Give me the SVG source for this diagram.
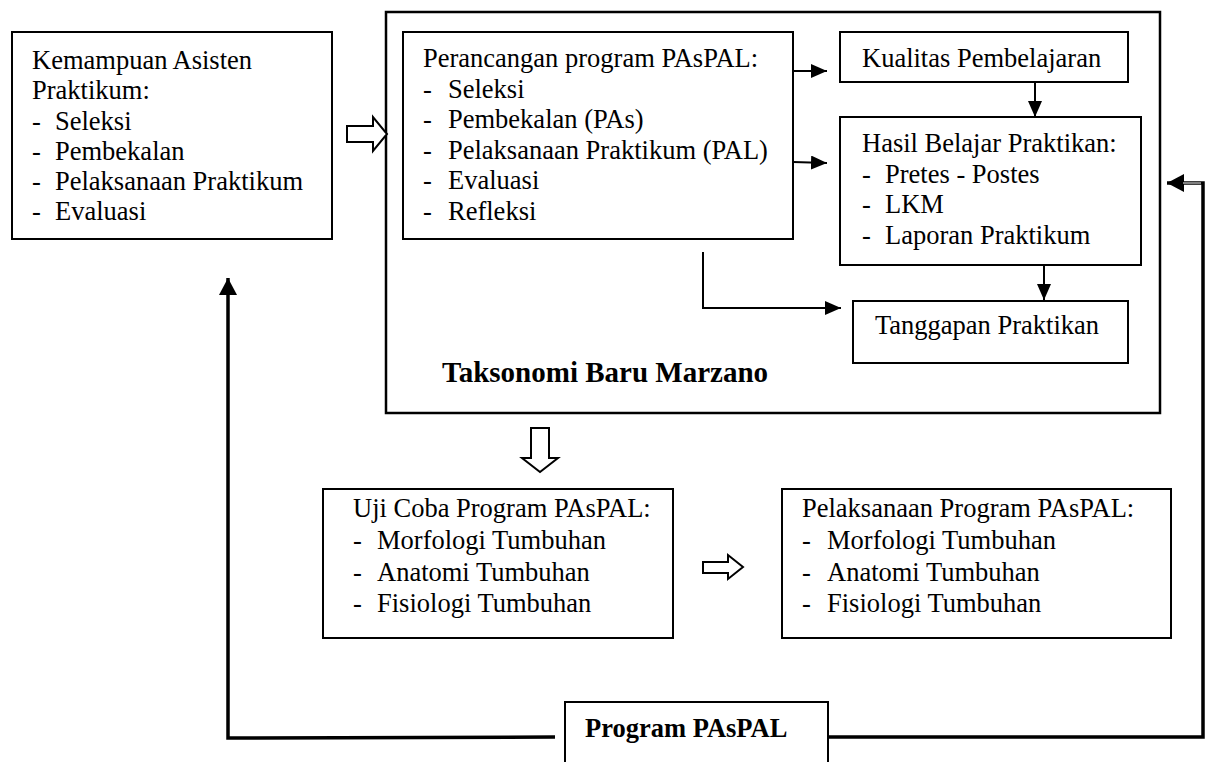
<svg xmlns="http://www.w3.org/2000/svg" width="1207" height="762" viewBox="0 0 1207 762" font-family="'Liberation Serif', 'Times New Roman', 'DejaVu Serif', serif">
<style>
  .box{fill:#fff;stroke:#000;stroke-width:2}
  .frame{fill:none;stroke:#000;stroke-width:2.5}
  text{font-family:'Liberation Serif','Times New Roman','DejaVu Serif',serif;font-size:26.5px;fill:#000}
  .b{font-weight:bold}
  .t{font-size:29px}
  .ln{fill:none;stroke:#000;stroke-width:2}
  .fb{fill:none;stroke:#000;stroke-width:3.5}
  .hollow{fill:#fff;stroke:#000;stroke-width:2;stroke-linejoin:miter}
</style>
<defs>
  <marker id="ah" markerUnits="userSpaceOnUse" markerWidth="16" markerHeight="14" viewBox="0 0 16 14" refX="16" refY="7" orient="auto">
    <path d="M0,0 L16,7 L0,14 Z" fill="#000"/>
  </marker>
  <marker id="ahb" markerUnits="userSpaceOnUse" markerWidth="17" markerHeight="18" viewBox="0 0 17 18" refX="17" refY="9" orient="auto">
    <path d="M0,0 L17,9 L0,18 Z" fill="#000"/>
  </marker>
</defs>

<g id="taksonomi-frame">
  <rect class="frame" x="386" y="12" width="774" height="401"/>
  <text class="b t" x="442" y="382">Taksonomi Baru Marzano</text>
</g>

<g id="kemampuan">
  <rect class="box" x="12" y="32" width="320" height="207"/>
  <text x="32" y="69">Kemampuan Asisten</text>
  <text x="32" y="99">Praktikum:</text>
  <text x="32" y="129.5">-</text><text x="55" y="129.5">Seleksi</text>
  <text x="32" y="160">-</text><text x="55" y="160">Pembekalan</text>
  <text x="32" y="190">-</text><text x="55" y="190">Pelaksanaan Praktikum</text>
  <text x="32" y="220">-</text><text x="55" y="220">Evaluasi</text>
</g>

<g id="perancangan">
  <rect class="box" x="403" y="32" width="390" height="207"/>
  <text x="423" y="67">Perancangan program PAsPAL:</text>
  <text x="423" y="97.5">-</text><text x="448" y="97.5">Seleksi</text>
  <text x="423" y="128">-</text><text x="448" y="128">Pembekalan (PAs)</text>
  <text x="423" y="158.5">-</text><text x="448" y="158.5">Pelaksanaan Praktikum (PAL)</text>
  <text x="423" y="189">-</text><text x="448" y="189">Evaluasi</text>
  <text x="423" y="219.5">-</text><text x="448" y="219.5">Refleksi</text>
</g>

<g id="kualitas">
  <rect class="box" x="840" y="32" width="288" height="50"/>
  <text x="862" y="67">Kualitas Pembelajaran</text>
</g>

<g id="hasil">
  <rect class="box" x="840" y="117" width="301" height="148"/>
  <text x="862" y="152">Hasil Belajar Praktikan:</text>
  <text x="862" y="182.5">-</text><text x="885" y="182.5">Pretes - Postes</text>
  <text x="862" y="213">-</text><text x="885" y="213">LKM</text>
  <text x="862" y="243.5">-</text><text x="885" y="243.5">Laporan Praktikum</text>
</g>

<g id="tanggapan">
  <rect class="box" x="853" y="301" width="275" height="62"/>
  <text x="875" y="334">Tanggapan Praktikan</text>
</g>

<g id="ujicoba">
  <rect class="box" x="323" y="489" width="350" height="149"/>
  <text x="353" y="517">Uji Coba Program PAsPAL:</text>
  <text x="353" y="549">-</text><text x="377" y="549">Morfologi Tumbuhan</text>
  <text x="353" y="580.5">-</text><text x="377" y="580.5">Anatomi Tumbuhan</text>
  <text x="353" y="612">-</text><text x="377" y="612">Fisiologi Tumbuhan</text>
</g>

<g id="pelaksanaan">
  <rect class="box" x="782" y="489" width="389" height="149"/>
  <text x="802" y="517">Pelaksanaan Program PAsPAL:</text>
  <text x="802" y="549">-</text><text x="827" y="549">Morfologi Tumbuhan</text>
  <text x="802" y="580.5">-</text><text x="827" y="580.5">Anatomi Tumbuhan</text>
  <text x="802" y="612">-</text><text x="827" y="612">Fisiologi Tumbuhan</text>
</g>

<g id="program">
  <rect class="box" x="565" y="702" width="263" height="70"/>
  <text class="b" x="585" y="737">Program PAsPAL</text>
</g>

<g id="connectors">
  <line class="ln" x1="793" y1="71" x2="827" y2="71" marker-end="url(#ah)"/>
  <line class="ln" x1="793" y1="162" x2="827" y2="163" marker-end="url(#ah)"/>
  <line class="ln" x1="1035" y1="82" x2="1035" y2="117" marker-end="url(#ah)"/>
  <line class="ln" x1="1044" y1="265" x2="1044" y2="300" marker-end="url(#ah)"/>
  <polyline class="ln" points="703,252 703,308 841,308" marker-end="url(#ah)"/>
  <polyline class="fb" points="555,737 228,738 228,278" marker-end="url(#ahb)"/>
  <polyline class="fb" points="828,737 1203,737 1203,183 1167,183" marker-end="url(#ahb)"/>
  <line x1="1183" y1="183" x2="1201" y2="183" stroke="#fff" stroke-width="1"/>
  <path class="hollow" d="M347,126 L373,126 L373,117 L387,134 L373,151 L373,142 L347,142 Z"/>
  <path class="hollow" d="M531,428 L549,428 L549,458 L558,458 L540,472 L522,458 L531,458 Z"/>
  <path class="hollow" d="M703,562 L728,562 L728,555 L743,567 L728,579 L728,573 L703,573 Z"/>
</g>
</svg>
